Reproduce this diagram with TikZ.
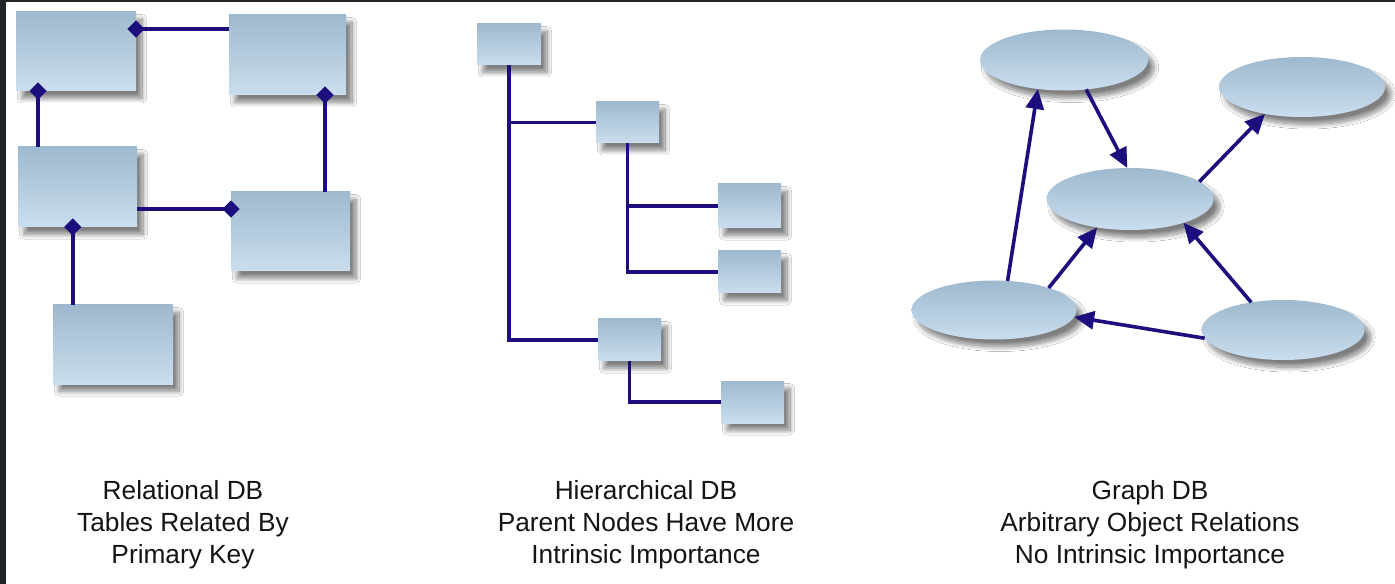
\documentclass[tikz,border=0pt]{standalone}
\usepackage{fontspec}
\setmainfont{Liberation Sans}
\usetikzlibrary{arrows.meta,shapes.geometric,fit,calc,shadows.blur}
\definecolor{navy}{RGB}{28,14,125}
\definecolor{fillTop}{RGB}{158,185,206}
\definecolor{fillBot}{RGB}{202,222,239}
\definecolor{frameDark}{RGB}{30,36,39}
\definecolor{txt}{RGB}{20,20,20}
\def\px{0.75pt}
\tikzset{
  softshadow/.style={blur shadow={shadow xshift=4.5pt, shadow yshift=-5.5pt, shadow blur radius=3.5pt, shadow blur steps=15, shadow opacity=50}},
  tbl/.style={rectangle, draw=none, inner sep=0pt, outer sep=0pt, top color=fillTop, bottom color=fillBot, softshadow},
  obj/.style={ellipse, draw=none, inner sep=0pt, outer sep=0pt, top color=fillTop, bottom color=fillBot, softshadow},
  rel/.style={draw=navy, line width=2.7pt},
  keytip/.tip={Diamond[length=13pt, width=13pt]},
  hl/.style={draw=navy, line width=2.7pt},
  gl/.style={draw=navy, line width=2.7pt, -{Triangle[length=15pt, width=13.5pt]}},
  caption/.style={align=center, text=txt, font=\fontsize{19.7}{24}\selectfont}
}
\begin{document}
\begin{tikzpicture}[x=0.75pt, y=-0.75pt]
\useasboundingbox (0,0) rectangle (1395,584);
\fill[white] (0,0) rectangle (1395,584);
\fill[frameDark] (0,0) rectangle (6,584);
\fill[frameDark] (0,0) rectangle (1395,2);

% ---------------- Relational DB ----------------
\node[tbl, fit={(16,12) (136,91)}] (A) {};
\node[tbl, fit={(229,15) (346,95)}] (B) {};
\node[tbl, fit={(18,147) (137,227)}] (C) {};
\node[tbl, fit={(231,192) (350,271)}] (D) {};
\node[tbl, fit={(53,305) (173,384)}] (E) {};

\coordinate (ab) at ($(A.north east)!0.215!(A.south east)$);
\draw[rel, keytip-, shorten <=-6.5pt] (ab) -- (B.west |- ab);
\coordinate (ac) at ($(A.south west)!0.183!(A.south east)$);
\draw[rel, keytip-, shorten <=-6.5pt] (ac) -- (C.north -| ac);
\coordinate (bd) at ($(B.south west)!0.82!(B.south east)$);
\draw[rel, keytip-, shorten <=-6.5pt] (bd) -- (D.north -| bd);
\coordinate (cd) at ($(C.north east)!0.775!(C.south east)$);
\draw[rel, -keytip, shorten >=-6.5pt] (cd) -- (D.west |- cd);
\coordinate (ce) at ($(C.south west)!0.46!(C.south east)$);
\draw[rel, keytip-, shorten <=-6.5pt] (ce) -- (E.north -| ce);

% ---------------- Hierarchical DB ----------------
\node[tbl, fit={(477,24) (541,65)}] (H1) {};
\node[tbl, fit={(596,102) (659,143)}] (H2) {};
\node[tbl, fit={(718,184) (781,228)}] (H3) {};
\node[tbl, fit={(718,251) (781,293)}] (H4) {};
\node[tbl, fit={(598,319) (661,361)}] (H5) {};
\node[tbl, fit={(721,381) (784,423)}] (H6) {};

\draw[hl] (H1.south) |- (H2.west);
\draw[hl] (H1.south) |- (H5.west);
\draw[hl] (H2.south) |- (H3.west);
\draw[hl] (H2.south) |- (H4.west);
\draw[hl] (H5.south) |- (H6.west);

% ---------------- Graph DB ----------------
\node[obj, minimum width=168*\px, minimum height=61*\px] (G1) at (1064,60) {};
\node[obj, minimum width=166*\px, minimum height=60*\px] (G2) at (1302,87) {};
\node[obj, minimum width=167*\px, minimum height=62*\px] (G3) at (1130,199) {};
\node[obj, minimum width=165*\px, minimum height=59*\px] (G4) at (994,310) {};
\node[obj, minimum width=163*\px, minimum height=60*\px] (G5) at (1283,330) {};

\draw[gl] (G4.65) -- (G1.228);
\draw[gl] (G1.307) -- (G3.95);
\draw[gl] (G3.14) -- (G2.216);
\draw[gl] (G4.22) -- (G3.221);
\draw[gl] (G5.139) -- (G3.336);
\draw[gl] (G5.186) -- (G4.355);

% ---------------- Captions ----------------
\node[caption] (t1) at (183,525) {Relational DB\\Tables Related By\\Primary Key};
\node[caption] (t2) at (646,525) {Hierarchical DB\\Parent Nodes Have More\\Intrinsic Importance};
\node[caption] (t3) at (1150,525) {Graph DB\\Arbitrary Object Relations\\No Intrinsic Importance};
\end{tikzpicture}
\end{document}
